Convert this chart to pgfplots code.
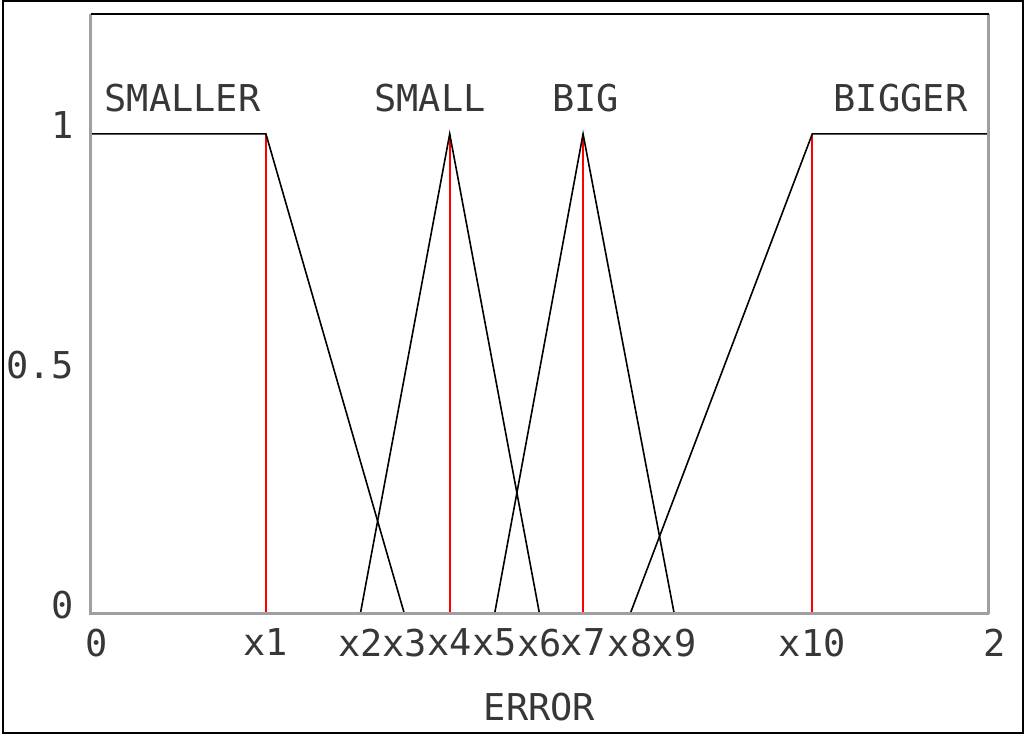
\documentclass[border=0pt]{standalone}
\usepackage{pgfplots}
\pgfplotsset{compat=1.18}
\usepackage{fontspec}
\setmainfont{DejaVu Sans Mono}

\definecolor{axisgray}{RGB}{160,160,160}
\definecolor{txt}{RGB}{55,55,55}

\newcommand{\lbl}{\fontsize{18.5}{20}\selectfont\color{txt}}

\begin{document}
\begin{tikzpicture}
  \begin{axis}[
    scale only axis,
    width=449.25pt,
    height=300pt,
    xmin=0, xmax=2,
    ymin=0, ymax=1.25,
    clip=false,
    axis line style={draw=none},
    tick style={draw=none},
    /pgf/number format/assume math mode=true,
    xtick={0.3907,0.601,0.699,0.8,0.9,1.0,1.097,1.202,1.30,1.6075},
    xticklabels={x1,x2,x3,x4,x5,x6,x7,x8,x9,x10},
    extra x ticks={0,2},
    extra x tick labels={0,2},
    extra x tick style={xticklabel style={anchor=north west, xshift=-6pt}},
    ytick={0,0.5,1},
    yticklabels={0,0.5,1},
    xticklabel style={font=\lbl, yshift=-4pt},
    yticklabel style={font=\lbl, anchor=east, xshift=-5pt, yshift=4.5pt},
    xlabel={ERROR},
    xlabel style={font=\lbl, at={(axis description cs:0.5,-0.155)}, anchor=center},
  ]
    % red guide lines at the peaks
    \addplot[red, line width=1pt, ycomb, mark=none]
      coordinates {(0.3907,1) (0.8,1) (1.097,1) (1.6075,1)};

    % membership functions
    \addplot[black, line width=0.8pt, mark=none]
      coordinates {(0,1) (0.3907,1) (0.699,0)};
    \addplot[black, line width=0.8pt, mark=none]
      coordinates {(0.601,0) (0.8,1) (1.0,0)};
    \addplot[black, line width=0.8pt, mark=none]
      coordinates {(0.9,0) (1.097,1) (1.30,0)};
    \addplot[black, line width=0.8pt, mark=none]
      coordinates {(1.202,0) (1.6075,1) (2,1)};

    % set names
    \node[font=\lbl] at (axis cs:0.205,1.075) {SMALLER};
    \node[font=\lbl] at (axis cs:0.756,1.075) {SMALL};
    \node[font=\lbl] at (axis cs:1.103,1.075) {BIG};
    \node[font=\lbl] at (axis cs:1.804,1.075) {BIGGER};

    % axis box: grey on three sides, black on top
    \draw[axisgray, line width=1.6pt]
      (rel axis cs:1,0) -- (rel axis cs:0,0) -- (rel axis cs:0,1);
    \draw[axisgray, line width=1.1pt] (rel axis cs:1,0) -- (rel axis cs:1,1);
    \draw[black, line width=1pt] (rel axis cs:0,1) -- (rel axis cs:1,1);

    % outer frame
    \draw[black, line width=1pt]
      (rel axis cs:-0.0979,-0.1983) rectangle (rel axis cs:1.0384,1.0217);
  \end{axis}
\end{tikzpicture}
\end{document}
